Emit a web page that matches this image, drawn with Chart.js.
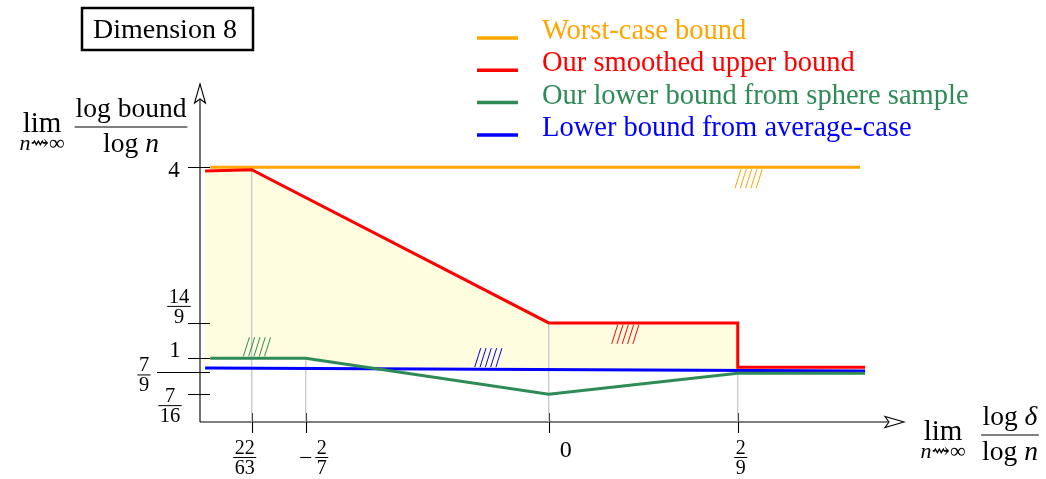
<!DOCTYPE html>
<html>
<head>
<meta charset="utf-8">
<script src="https://cdn.jsdelivr.net/npm/chart.js@4.4.1/dist/chart.umd.min.js"></script>
<style>
  html, body { margin: 0; padding: 0; background: #fff; }
</style>
</head>
<body>
<canvas id="myChart" width="1046" height="479"></canvas>
<script>
// x = lim log(delta)/log n, y = lim log(bound)/log n
const worstX = [-0.398, 0.366];
const worstY = [4, 4];
const upperX = [-0.404, -22 / 63, 0, 2 / 9, 2 / 9, 0.372];
const upperY = [3.94, 3.96, 14 / 9, 14 / 9, 0.86, 0.86];
const sphereX = [-0.398, -2 / 7, 0, 2 / 9, 0.372];
const sphereY = [1, 1, 7 / 16, 0.765, 0.765];
const avgX = [-0.404, 0.372];
const avgY = [0.848, 0.8];

const xTicks = [-22 / 63, -2 / 7, 0, 2 / 9];
const xTickLabels = ["22/63", "-2/7", "0", "2/9"];
const yTicks = [4, 14 / 9, 1, 7 / 9, 7 / 16];
const yTickLabels = ["4", "14/9", "1", "7/9", "7/16"];

// grey guides dropped from the curves to the x axis
const guideX = [-22 / 63, -2 / 7, 0, 2 / 9];
const guideTop = [3.96, 1, 14 / 9, 14 / 9];

const names = [
  "Worst-case bound",
  "Our smoothed upper bound",
  "Our lower bound from sphere sample",
  "Lower bound from average-case",
];
const colors = ["#FFA500", "#FF0000", "#2E8B57", "#0000FF"];
// little hatch marks showing which side of each bound is allowed
const hatchX = [0.219, 0.074, -0.359, -0.087];
const hatchY = [4, 14 / 9, 1, 0.83];
const hatchBelow = [true, true, false, false];

const SERIF = "'Liberation Serif', 'DejaVu Serif', serif";
const pts = (xs, ys) => xs.map((x, i) => ({ x, y: ys[i] }));

const guides = guideX.map((gx, i) => ({
  data: [{ x: gx, y: 0 }, { x: gx, y: guideTop[i] }],
  borderColor: "#c8c8c8",
  borderWidth: 1.3,
  fill: false,
}));

function frac(ctx, str, cx, barY, size, color) {
  const [num, den] = str.split("/");
  ctx.font = size + "px " + SERIF;
  ctx.fillStyle = color;
  ctx.strokeStyle = color;
  ctx.textAlign = "center";
  ctx.textBaseline = "alphabetic";
  const w = Math.max(ctx.measureText(num).width, ctx.measureText(den).width) + 3;
  ctx.fillText(num, cx, barY - 3);
  ctx.fillText(den, cx, barY + 3 + size * 0.68);
  ctx.lineWidth = 1;
  ctx.beginPath();
  ctx.moveTo(cx - w / 2, barY + 0.5);
  ctx.lineTo(cx + w / 2, barY + 0.5);
  ctx.stroke();
  return w;
}

function arrow(ctx, x, y, dx, dy) {
  // open stealth-like tip pointing along (dx, dy)
  const L = 19, H = 5.5, N = 4;
  const px = -dy, py = dx;
  ctx.beginPath();
  ctx.moveTo(x, y);
  ctx.lineTo(x - dx * L + px * H, y - dy * L + py * H);
  ctx.lineTo(x - dx * (L - N), y - dy * (L - N));
  ctx.lineTo(x - dx * L - px * H, y - dy * L - py * H);
  ctx.closePath();
  ctx.fillStyle = "#fff";
  ctx.fill();
  ctx.stroke();
}

// a "lim over n~>inf" in front of a fraction
function limLabel(ctx, cx, base, size) {
  ctx.fillStyle = "#000";
  ctx.textAlign = "center";
  ctx.textBaseline = "alphabetic";
  ctx.font = size + "px " + SERIF;
  ctx.fillText("lim", cx, base);
  const s = Math.round(size * 0.76);
  ctx.font = "italic " + s + "px " + SERIF;
  const wn = ctx.measureText("n").width;
  ctx.font = s + "px " + SERIF;
  const wr = ctx.measureText("\u21DD\u221E").width;
  const x0 = cx - (wn + wr) / 2;
  ctx.textAlign = "left";
  ctx.font = "italic " + s + "px " + SERIF;
  ctx.fillText("n", x0, base + 18);
  ctx.font = s + "px " + SERIF;
  ctx.fillText("\u21DD\u221E", x0 + wn, base + 18);
}

function mathFrac(ctx, numParts, cx, barY, size) {
  ctx.fillStyle = "#000";
  ctx.textBaseline = "alphabetic";
  const drawParts = (parts, base) => {
    let w = 0;
    parts.forEach(([t, it]) => {
      ctx.font = (it ? "italic " : "") + size + "px " + SERIF;
      w += ctx.measureText(t).width;
    });
    let x = cx - w / 2;
    ctx.textAlign = "left";
    parts.forEach(([t, it]) => {
      ctx.font = (it ? "italic " : "") + size + "px " + SERIF;
      ctx.fillText(t, x, base);
      x += ctx.measureText(t).width;
    });
    return w;
  };
  const w1 = drawParts(numParts, barY - 10);
  const w2 = drawParts([["log ", false], ["n", true]], barY + 25);
  const w = Math.max(w1, w2) + 2;
  ctx.strokeStyle = "#000";
  ctx.lineWidth = 1.1;
  ctx.beginPath();
  ctx.moveTo(cx - w / 2, barY);
  ctx.lineTo(cx + w / 2, barY);
  ctx.stroke();
}

const decor = {
  id: "decor",
  beforeDatasetsDraw(chart) {
    const { ctx, scales: { x, y } } = chart;
    const x0 = x.getPixelForValue(x.min);
    const y0 = y.getPixelForValue(0);
    ctx.save();
    ctx.strokeStyle = "#000";
    ctx.lineWidth = 1.1;
    // axes
    ctx.beginPath();
    ctx.moveTo(x0, y0);
    ctx.lineTo(888, y0);
    ctx.moveTo(x0, y0);
    ctx.lineTo(x0, 100);
    ctx.stroke();
    arrow(ctx, 904, y0, 1, 0);
    arrow(ctx, x0, 84, 0, -1);
    // ticks
    ctx.beginPath();
    yTicks.forEach((v, i) => {
      const py = Math.round(y.getPixelForValue(v)) + 0.5;
      ctx.moveTo(yTickLabels[i] === "7/9" ? 157 : 188, py);
      ctx.lineTo(210, py);
    });
    xTicks.forEach((v) => {
      const px = Math.round(x.getPixelForValue(v)) + 0.5;
      ctx.moveTo(px, 413);
      ctx.lineTo(px, 433);
    });
    ctx.stroke();
    ctx.restore();
  },
  afterDraw(chart) {
    const { ctx, scales: { x, y } } = chart;
    const x0 = x.getPixelForValue(x.min);
    const y0 = y.getPixelForValue(0);
    ctx.save();

    // y tick labels: [dx from axis, dy from tick]
    const yOff = [[-26, 10], [-21, -17], [-25, -1], [-56, 2], [-30, 11]];
    yTickLabels.forEach((lab, i) => {
      const py = y.getPixelForValue(yTicks[i]);
      const cx = x0 + yOff[i][0];
      if (lab.includes("/")) {
        frac(ctx, lab, cx, py + yOff[i][1], 20.5, "#000");
      } else {
        ctx.font = "23px " + SERIF;
        ctx.fillStyle = "#000";
        ctx.textAlign = "center";
        ctx.fillText(lab, cx, py + yOff[i][1]);
      }
    });

    // x tick labels: dx from tick, baseline / bar at y0 + 35
    const xOff = [-7, 16, 17, 3];
    xTickLabels.forEach((lab, i) => {
      const cx = x.getPixelForValue(xTicks[i]) + xOff[i];
      const by = y0 + 35;
      if (lab.includes("/")) {
        const neg = lab.startsWith("-");
        const w = frac(ctx, neg ? lab.slice(1) : lab, cx, by, 20, "#000");
        if (neg) {
          ctx.lineWidth = 1.1;
          ctx.beginPath();
          ctx.moveTo(cx - w / 2 - 15, by + 0.5);
          ctx.lineTo(cx - w / 2 - 4, by + 0.5);
          ctx.stroke();
        }
      } else {
        ctx.font = "24px " + SERIF;
        ctx.fillStyle = "#000";
        ctx.textAlign = "center";
        ctx.fillText(lab, cx, by);
      }
    });

    // axis titles
    limLabel(ctx, 42, 132, 29);
    mathFrac(ctx, [["log bound", false]], 131, 127, 27.5);
    limLabel(ctx, 943, 440, 29);
    mathFrac(ctx, [["log ", false], ["\u03B4", true]], 1010, 435, 27.5);

    // hatches
    colors.forEach((c, i) => {
      const px = x.getPixelForValue(hatchX[i]);
      const py = y.getPixelForValue(hatchY[i]);
      const top = hatchBelow[i] ? py + 2 : py - 21;
      const bot = top + 19;
      ctx.strokeStyle = c;
      ctx.lineWidth = 1;
      ctx.beginPath();
      for (let k = 0; k < 5; k++) {
        ctx.moveTo(px + k * 5.3, bot);
        ctx.lineTo(px + k * 5.3 + 6, top);
      }
      ctx.stroke();
    });

    // legend
    names.forEach((name, i) => {
      const ly = 38 + i * 32.3;
      ctx.strokeStyle = colors[i];
      ctx.lineWidth = 3.5;
      ctx.beginPath();
      ctx.moveTo(477, ly);
      ctx.lineTo(518, ly);
      ctx.stroke();
      ctx.font = "28.5px " + SERIF;
      ctx.fillStyle = colors[i];
      ctx.textAlign = "left";
      ctx.fillText(name, 542, ly + 1);
    });

    // panel title
    ctx.strokeStyle = "#000";
    ctx.lineWidth = 2.5;
    ctx.strokeRect(82, 8, 171, 42);
    ctx.font = "28px " + SERIF;
    ctx.fillStyle = "#000";
    ctx.textAlign = "left";
    ctx.fillText("Dimension 8", 93, 38);
    ctx.restore();
  },
};

const ctx = document.getElementById("myChart").getContext("2d");
new Chart(ctx, {
  type: "line",
  data: {
    datasets: [
      {
        label: names[2],
        data: pts(sphereX, sphereY),
        borderColor: colors[2],
        borderWidth: 3,
        fill: { target: 2, above: "#ffffff", below: "rgba(0,0,0,0)" },
      },
      {
        label: names[1],
        data: pts(upperX, upperY),
        borderColor: colors[1],
        borderWidth: 3,
        fill: { target: 2, above: "#FFFDDF", below: "rgba(0,0,0,0)" },
      },
      {
        label: names[3],
        data: pts(avgX, avgY),
        borderColor: colors[3],
        borderWidth: 3,
        fill: false,
      },
      {
        label: names[0],
        data: pts(worstX, worstY),
        borderColor: colors[0],
        borderWidth: 3,
        fill: false,
      },
      ...guides,
    ],
  },
  options: {
    responsive: false,
    animation: false,
    layout: { padding: { left: 200, right: 146, top: 85, bottom: 57 } },
    scales: {
      x: { type: "linear", min: -0.41, max: 0.413, display: false },
      y: { type: "linear", min: 0, max: 5.29, display: false },
    },
    elements: {
      point: { radius: 0 },
      line: { tension: 0, borderJoinStyle: "miter", borderCapStyle: "butt" },
    },
    plugins: {
      legend: { display: false },
      tooltip: { enabled: false },
      filler: { drawTime: "beforeDatasetsDraw" },
    },
  },
  plugins: [decor],
});
</script>
</body>
</html>
